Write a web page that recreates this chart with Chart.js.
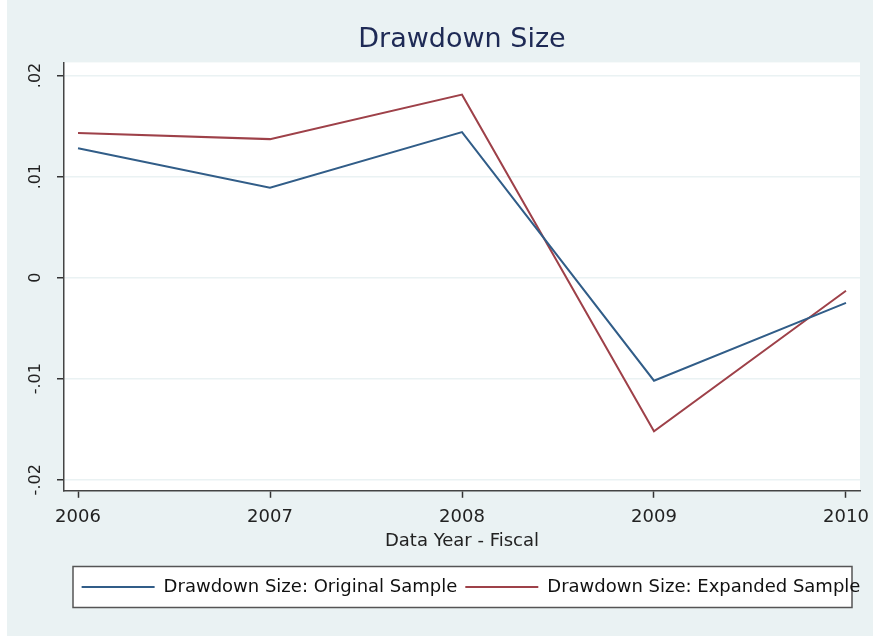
<!DOCTYPE html>
<html>
<head>
<meta charset="utf-8">
<title>Drawdown Size</title>
<script src="https://cdn.jsdelivr.net/npm/chart.js@4.4.1/dist/chart.umd.min.js"></script>
<style>
  html, body { margin: 0; padding: 0; background: #fff; overflow: hidden; }
  canvas { display: block; }
</style>
</head>
<body>
<canvas id="chart" width="873" height="636"></canvas>
<script>
// ------------------------
// Data
// ------------------------
const years = [2006, 2007, 2008, 2009, 2010];
const originalSample = [0.0128, 0.0089, 0.0144, -0.0102, -0.0025];
const expandedSample = [0.0143, 0.0137, 0.0181, -0.0152, -0.0013];
const yTicks = [-0.02, -0.01, 0, 0.01, 0.02];
const yTickLabels = ["-.02", "-.01", "0", ".01", ".02"];

const BG = "#EAF2F3";
const BLUE = "#315D88";
const RED = "#9E4149";

Chart.defaults.font.family = "'DejaVu Sans', sans-serif";
Chart.defaults.color = "#222";

// frame box around the legend (Stata style)
function legendFrame(chart) {
    const lg = chart.legend;
    const a = chart.chartArea;
    if (!lg || !lg.legendHitBoxes?.length) return null;
    const hb = lg.legendHitBoxes[0];
    const cy = hb.top + hb.height / 2;
    return { x: a.left + 9, y: cy - 20.5, w: a.right - a.left - 17, h: 41 };
}

// background, white plot region, legend frame
const backdrop = {
    id: "backdrop",
    afterLayout(chart) {
        // legend items sit a bit right of centre in the original
        const lg = chart.legend;
        if (lg) { lg.left += 9; lg.right += 9; }
    },
    beforeDraw(chart) {
        const { ctx, chartArea: a } = chart;
        ctx.save();
        ctx.fillStyle = "#fff";
        ctx.fillRect(0, 0, chart.width, chart.height);
        ctx.fillStyle = BG;
        ctx.fillRect(7, 0, chart.width - 7, chart.height);
        ctx.fillStyle = "#fff";
        ctx.fillRect(a.left, a.top, a.right - a.left, a.bottom - a.top);
        const f = legendFrame(chart);
        if (f) {
            ctx.fillRect(f.x, f.y, f.w, f.h);
            ctx.strokeStyle = "#555";
            ctx.lineWidth = 1.5;
            ctx.strokeRect(f.x, f.y, f.w, f.h);
        }
        ctx.restore();
    }
};

new Chart(document.getElementById("chart"), {
    type: "line",
    data: {
        labels: years,
        datasets: [
            {
                label: "Drawdown Size: Original Sample",
                data: years.map((y, i) => ({ x: y, y: originalSample[i] })),
                borderColor: BLUE,
                backgroundColor: BLUE,
                borderWidth: 2,
                pointRadius: 0,
                tension: 0
            },
            {
                label: "Drawdown Size: Expanded Sample",
                data: years.map((y, i) => ({ x: y, y: expandedSample[i] })),
                borderColor: RED,
                backgroundColor: RED,
                borderWidth: 2,
                pointRadius: 0,
                tension: 0
            }
        ]
    },
    options: {
        responsive: false,
        animation: false,
        layout: { padding: { left: 7, right: 13, top: 24, bottom: 30 } },
        scales: {
            x: {
                type: "linear",
                min: 2005.927,
                max: 2010.073,
                afterBuildTicks: s => { s.ticks = years.map(v => ({ value: v })); },
                afterFit: s => { s.paddingLeft = 0; s.paddingRight = 0; s.height -= 8; },
                ticks: {
                    callback: v => String(v),
                    font: { size: 18 },
                    color: "#222",
                    padding: 9,
                    maxRotation: 0,
                    autoSkip: false
                },
                grid: {
                    drawOnChartArea: false,
                    tickLength: 7,
                    tickColor: "#333",
                    tickWidth: 1.5
                },
                border: { color: "#444", width: 1.5 },
                title: {
                    display: true,
                    text: "Data Year - Fiscal",
                    font: { size: 18 },
                    color: "#222",
                    padding: { top: 1, bottom: 18 }
                }
            },
            y: {
                min: -0.02109,
                max: 0.02129,
                afterBuildTicks: s => { s.ticks = yTicks.map(v => ({ value: v })); },
                afterFit: s => { s.width = 57; },
                ticks: {
                    callback: (v, i) => yTickLabels[i],
                    font: { size: 16 },
                    color: "#222",
                    minRotation: 90,
                    maxRotation: 90,
                    crossAlign: "center",
                    padding: 6,
                    autoSkip: false
                },
                grid: {
                    color: BG,
                    lineWidth: 1.5,
                    tickLength: 7,
                    tickColor: "#333",
                    tickWidth: 1.5
                },
                border: { color: "#444", width: 1.5 }
            }
        },
        plugins: {
            title: {
                display: true,
                fullSize: false,
                text: "Drawdown Size",
                color: "#1E2A55",
                font: { size: 27, weight: "normal" },
                padding: { top: 0, bottom: 6 }
            },
            legend: {
                position: "bottom",
                fullSize: false,
                labels: {
                    boxWidth: 73,
                    boxHeight: 2,
                    padding: 8,
                    color: "#111",
                    font: { size: 18 },
                    generateLabels: chart =>
                        Chart.defaults.plugins.legend.labels.generateLabels(chart)
                            .map(l => ({ ...l, lineWidth: 0 }))
                }
            },
            tooltip: { enabled: false }
        }
    },
    plugins: [backdrop]
});
</script>
</body>
</html>
